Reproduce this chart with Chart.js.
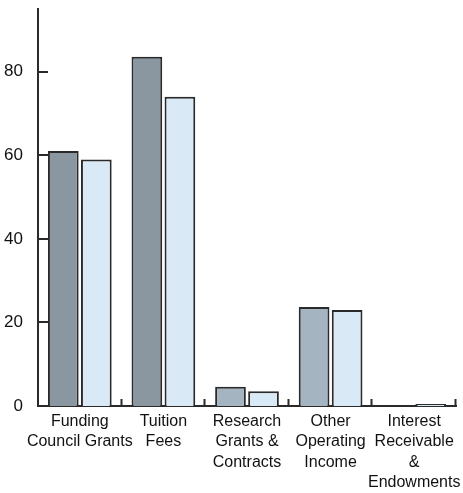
<!DOCTYPE html>
<html>
<head>
<meta charset="utf-8">
<script src="https://cdn.jsdelivr.net/npm/chart.js@4/dist/chart.umd.min.js"></script>
<style>
  html, body { margin: 0; padding: 0; background: #ffffff; }
  #wrap { width: 463px; height: 493px; }
</style>
</head>
<body>
<div id="wrap"><canvas id="c" width="463" height="493"></canvas></div>
<script>
// Income by source (two years)
const categories = [
  ["Funding", "Council Grants"],
  ["Tuition", "Fees"],
  ["Research", "Grants &", "Contracts"],
  ["Other", "Operating", "Income"],
  ["Interest", "Receivable", "&", "Endowments"]
];
const seriesA = [61, 83.6, 4.6, 23.7, 0];
const seriesB = [59, 74, 3.5, 23, 0.5];
const yTicks = [0, 20, 40, 60, 80];

const colorsA = ["#8a97a1", "#8a97a1", "#a4b5c1", "#a4b5c1", "#a4b5c1"];
const colorB = "#d9e9f5";
const ink = "#2a2a2a";
const labelFont = "'Liberation Sans Narrow', 'Liberation Sans', sans-serif";

// Inward tick marks on both axes
const innerTicks = {
  id: "innerTicks",
  afterDatasetsDraw(chart) {
    const { ctx, chartArea, scales } = chart;
    const x = scales.x, y = scales.y;
    ctx.save();
    ctx.strokeStyle = ink;
    ctx.lineWidth = 2;
    ctx.beginPath();
    yTicks.forEach(v => {
      if (v === 0) return;
      const py = Math.round(y.getPixelForValue(v));
      ctx.moveTo(chartArea.left, py);
      ctx.lineTo(chartArea.left + 10, py);
    });
    for (let i = 1; i <= categories.length; i++) {
      const px = Math.round(x.getPixelForValue(i - 0.5)) - 0.5;
      ctx.moveTo(px, chartArea.bottom);
      ctx.lineTo(px, chartArea.bottom - 7);
    }
    ctx.stroke();
    ctx.restore();
  }
};

new Chart(document.getElementById("c"), {
  type: "bar",
  data: {
    labels: categories,
    datasets: [
      { data: seriesA, backgroundColor: colorsA, borderColor: ink, borderWidth: 2, borderSkipped: "bottom" },
      { data: seriesB, backgroundColor: colorB, borderColor: ink, borderWidth: 2, borderSkipped: "bottom" }
    ]
  },
  options: {
    responsive: false,
    animation: false,
    layout: { padding: { top: 9, right: 7, left: 0, bottom: 0 } },
    datasets: { bar: { categoryPercentage: 0.79, barPercentage: 0.93 } },
    plugins: { legend: { display: false }, tooltip: { enabled: false } },
    scales: {
      x: {
        offset: true,
        grid: { display: false, drawTicks: false },
        border: { display: true, color: ink, width: 2 },
        ticks: {
          autoSkip: false, maxRotation: 0, minRotation: 0, padding: 5,
          color: "#111", font: { family: labelFont, size: 16, lineHeight: 1.28 }
        },
        afterFit(s) { s.height = 87; s.paddingLeft = 0; s.paddingRight = 0; }
      },
      y: {
        min: 0, max: 95,
        grid: { display: false, drawTicks: false },
        border: { display: true, color: ink, width: 2 },
        afterBuildTicks(s) { s.ticks = yTicks.map(v => ({ value: v })); },
        ticks: {
          padding: 15,
          color: "#111", font: { family: labelFont, size: 17 }
        },
        afterFit(s) { s.width = 38; s.paddingTop = 0; s.paddingBottom = 0; }
      }
    }
  },
  plugins: [innerTicks]
});
</script>
</body>
</html>
